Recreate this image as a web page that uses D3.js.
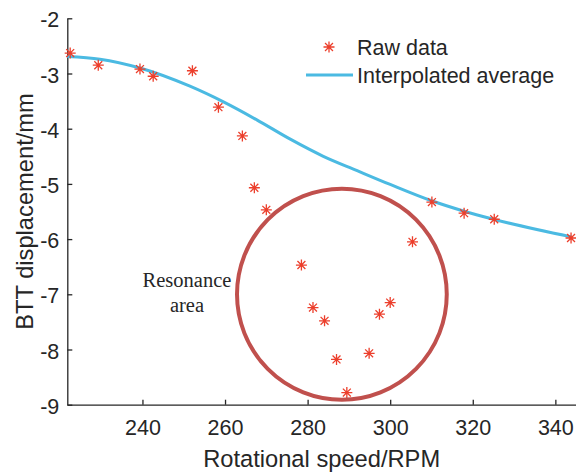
<!DOCTYPE html>
<html>
<head>
<meta charset="utf-8">
<script src="https://cdn.jsdelivr.net/npm/d3@7"></script>
<style>
  body { margin: 0; background: #fff; }
  svg { display: block; }
  text { font-family: "Liberation Sans", Arial, Helvetica, sans-serif; fill: #262626; }
</style>
</head>
<body>
<div id="chart"></div>
<script>
var rawSpeed = [222.5, 229.3, 239.4, 242.6, 252.1, 258.4, 264.2, 267.1, 270.0, 278.5, 281.3,
                284.1, 287.0, 289.5, 294.9, 297.4, 300.0, 305.4, 310.1, 317.9, 325.2, 343.8];
var rawDisp = [-2.63, -2.85, -2.92, -3.05, -2.95, -3.61, -4.13, -5.07, -5.47, -6.47, -7.24,
               -7.48, -8.18, -8.78, -8.07, -7.36, -7.15, -6.05, -5.33, -5.53, -5.64, -5.98];

// interpolated average curve
var avgSpeed = [221.8, 229.7, 239.4, 251.5, 259.5, 267.7, 275.8, 283.8, 292.0, 300.0, 310.2, 317.7, 325.0, 343.9];
var avgDisp = [-2.69, -2.74, -2.90, -3.23, -3.51, -3.84, -4.19, -4.50, -4.76, -5.01, -5.31, -5.49, -5.64, -5.96];

var xTicks = [240, 260, 280, 300, 320, 340];
var yTicks = [-9, -8, -7, -6, -5, -4, -3, -2];

// resonance area annotation
var resCenter = [288.3, -7.0];
var resRadius = 25.4; // in RPM units

var W = 576, H = 472;
var margin = {left: 67.3, right: 0, top: 18.3, bottom: 67.3};

var svg = d3.select("#chart").append("svg")
    .attr("width", W)
    .attr("height", H);

var x = d3.scaleLinear()
    .domain([221.8, 345])
    .range([margin.left, W - margin.right]);

var y = d3.scaleLinear()
    .domain([-9, -2])
    .range([H - margin.bottom, margin.top]);

// axes (MATLAB style: ticks inward, box off)
var xAxis = svg.append("g")
    .attr("transform", "translate(0," + y(-9) + ")")
    .call(d3.axisBottom(x).tickValues(xTicks).tickSizeInner(-5).tickSizeOuter(0).tickPadding(15.5).tickFormat(d => d));

var yAxis = svg.append("g")
    .attr("transform", "translate(" + x(221.8) + ",0)")
    .call(d3.axisLeft(y).tickValues(yTicks).tickSizeInner(-5).tickSizeOuter(0).tickPadding(8).tickFormat(d => String(d)));

[xAxis, yAxis].forEach(function(g) {
  g.select(".domain").attr("stroke", "#262626").attr("stroke-width", 1.3);
  g.selectAll(".tick line").attr("stroke", "#262626").attr("stroke-width", 1.3);
  g.selectAll(".tick text").attr("fill", "#262626").style("font-size", "21.5px")
    .style("font-family", "'Liberation Sans', Arial, sans-serif");
});
yAxis.selectAll(".tick text").attr("dy", "0.4em");

// axis titles
svg.append("text")
    .attr("x", (x.range()[0] + x.range()[1]) / 2)
    .attr("y", 467)
    .attr("text-anchor", "middle")
    .style("font-size", "23.7px")
    .text("Rotational speed/RPM");

svg.append("text")
    .attr("transform", "translate(33," + ((y.range()[0] + y.range()[1]) / 2) + ") rotate(-90)")
    .attr("text-anchor", "middle")
    .style("font-size", "23.7px")
    .text("BTT displacement/mm");

// interpolated average
var line = d3.line()
    .x(d => x(d[0]))
    .y(d => y(d[1]))
    .curve(d3.curveMonotoneX);

svg.append("path")
    .datum(d3.zip(avgSpeed, avgDisp))
    .attr("d", line)
    .attr("fill", "none")
    .attr("stroke", "#4bbae2")
    .attr("stroke-width", 3);

// asterisk marker
function star(s) {
  var d = s * 0.72;
  return "M0," + (-s) + "V" + s + "M" + (-s) + ",0H" + s +
         "M" + (-d) + "," + (-d) + "L" + d + "," + d +
         "M" + (-d) + "," + d + "L" + d + "," + (-d);
}

svg.append("g")
    .selectAll("path")
    .data(d3.zip(rawSpeed, rawDisp))
    .enter()
    .append("path")
    .attr("transform", d => "translate(" + x(d[0]) + "," + y(d[1]) + ")")
    .attr("d", star(5.5))
    .attr("fill", "none")
    .attr("stroke", "#ec3f2c")
    .attr("stroke-width", 1.3);

// resonance circle
svg.append("ellipse")
    .attr("cx", x(resCenter[0]))
    .attr("cy", y(resCenter[1]))
    .attr("rx", x(resCenter[0] + resRadius) - x(resCenter[0]))
    .attr("ry", 105.5)
    .attr("fill", "none")
    .attr("stroke", "#c0504d")
    .attr("stroke-width", 4);

var note = svg.append("text")
    .attr("text-anchor", "middle")
    .style("font-family", "'Liberation Serif', 'Times New Roman', serif")
    .style("font-size", "20.5px")
    .attr("fill", "#000");
note.append("tspan").attr("x", 187).attr("y", 287).text("Resonance");
note.append("tspan").attr("x", 187).attr("y", 312).text("area");

// legend
var legend = svg.append("g");
legend.append("path")
    .attr("transform", "translate(329,47)")
    .attr("d", star(5.5))
    .attr("fill", "none")
    .attr("stroke", "#ec3f2c")
    .attr("stroke-width", 1.3);
legend.append("line")
    .attr("x1", 306).attr("x2", 353)
    .attr("y1", 75).attr("y2", 75)
    .attr("stroke", "#4bbae2")
    .attr("stroke-width", 3);
legend.append("text").attr("x", 357).attr("y", 55).style("font-size", "21.5px").text("Raw data");
legend.append("text").attr("x", 357).attr("y", 83).style("font-size", "21.5px").text("Interpolated average");
</script>
</body>
</html>
